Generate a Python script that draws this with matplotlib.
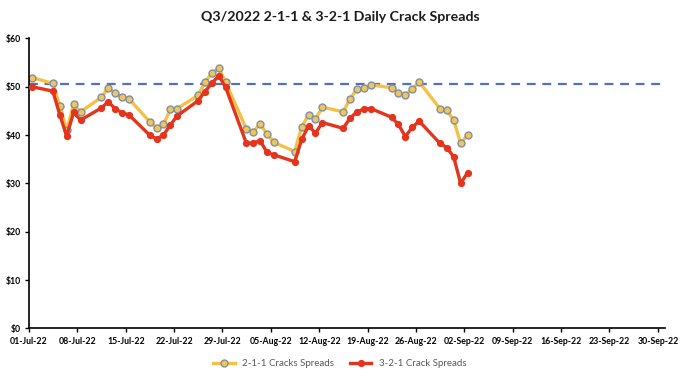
import matplotlib
matplotlib.use("Agg")
import matplotlib.pyplot as plt
import pandas as pd

plt.rcParams["font.family"] = ["Lato", "DejaVu Sans"]

dates = pd.to_datetime([
    "2022-07-01", "2022-07-04", "2022-07-05", "2022-07-06", "2022-07-07", "2022-07-08",
    "2022-07-11", "2022-07-12", "2022-07-13", "2022-07-14", "2022-07-15",
    "2022-07-18", "2022-07-19", "2022-07-20", "2022-07-21", "2022-07-22",
    "2022-07-25", "2022-07-26", "2022-07-27", "2022-07-28", "2022-07-29",
    "2022-08-01", "2022-08-02", "2022-08-03", "2022-08-04", "2022-08-05",
    "2022-08-08", "2022-08-09", "2022-08-10", "2022-08-11", "2022-08-12",
    "2022-08-15", "2022-08-16", "2022-08-17", "2022-08-18", "2022-08-19",
    "2022-08-22", "2022-08-23", "2022-08-24", "2022-08-25", "2022-08-26",
    "2022-08-29", "2022-08-30", "2022-08-31", "2022-09-01", "2022-09-02",
])

crack_211 = [
    51.9, 50.7, 46.1, 41.0, 46.4, 44.8,
    47.8, 49.7, 48.8, 47.8, 47.5,
    42.8, 41.4, 42.2, 45.3, 45.5,
    48.2, 50.9, 52.8, 53.9, 50.9,
    41.3, 40.7, 42.3, 40.2, 38.5,
    36.6, 41.7, 44.2, 43.3, 45.8,
    44.8, 47.5, 49.6, 49.7, 50.4,
    49.8, 48.7, 48.2, 49.5, 51.0,
    45.5, 45.1, 43.1, 38.3, 40.0,
]

crack_321 = [
    50.0, 49.1, 44.2, 39.8, 44.7, 43.1,
    45.6, 46.9, 45.5, 44.6, 44.2,
    40.0, 39.2, 40.0, 42.1, 44.0,
    47.1, 49.0, 50.7, 52.3, 49.9,
    38.3, 38.4, 38.8, 36.4, 35.9,
    34.5, 39.1, 41.9, 40.4, 42.6,
    41.4, 43.5, 44.8, 45.4, 45.5,
    43.7, 42.2, 39.7, 41.6, 42.9,
    38.3, 37.4, 35.5, 30.0, 32.2,
]

reference_level = 50.5
y_ticks = [0, 10, 20, 30, 40, 50, 60]
x_ticks = pd.date_range("2022-07-01", "2022-09-30", freq="7D")

fig = plt.figure(figsize=(6.8, 3.77), dpi=100)
ax = fig.add_axes([0.0426, 0.129, 0.935, 0.769])

# Excel plots each day in the middle of its slot
x = dates + pd.Timedelta(hours=11)

ax.axhline(reference_level, color="#4F72B8", lw=1.6, ls=(0, (4, 3)), zorder=1)
ax.plot(x, crack_211, color="#F4C145", lw=2.4, marker="o", ms=5,
        mfc="#F0C55A", mec="#7F8FA6", mew=1.0, label="2-1-1 Cracks Spreads", zorder=2)
ax.plot(x, crack_321, color="#E5341D", lw=2.4, marker="o", ms=4.2,
        mfc="#E5341D", mec="#E5341D", label="3-2-1 Crack Spreads", zorder=3)

tick_font = dict(weight="bold", size=6.3, color="#1a1a1a")

ax.set_xlim(pd.Timestamp("2022-07-01"), pd.Timestamp("2022-10-01"))
ax.set_ylim(0, 60)
ax.set_yticks(y_ticks)
ax.set_yticklabels([f"${v}" for v in y_ticks], **tick_font)
ax.set_xticks(x_ticks)
ax.set_xticklabels([d.strftime("%d-%b-%y") for d in x_ticks], **tick_font)

for s in ["top", "right"]:
    ax.spines[s].set_visible(False)
for s in ["left", "bottom"]:
    ax.spines[s].set_color("black")
    ax.spines[s].set_linewidth(1.2)
ax.tick_params(axis="both", direction="out", length=3, width=1, colors="black", pad=3)

fig.suptitle("Q3/2022 2-1-1 & 3-2-1 Daily Crack Spreads", y=0.97,
             fontsize=10.2, fontweight="bold", color="#1a1a1a")

fig.legend(loc="lower center", bbox_to_anchor=(0.5, 0.0), ncol=2, frameon=False,
           fontsize=7, labelcolor="#595959", handlelength=2.2, columnspacing=1.6)

fig.savefig("out.png", dpi=100)
plt.close(fig)
